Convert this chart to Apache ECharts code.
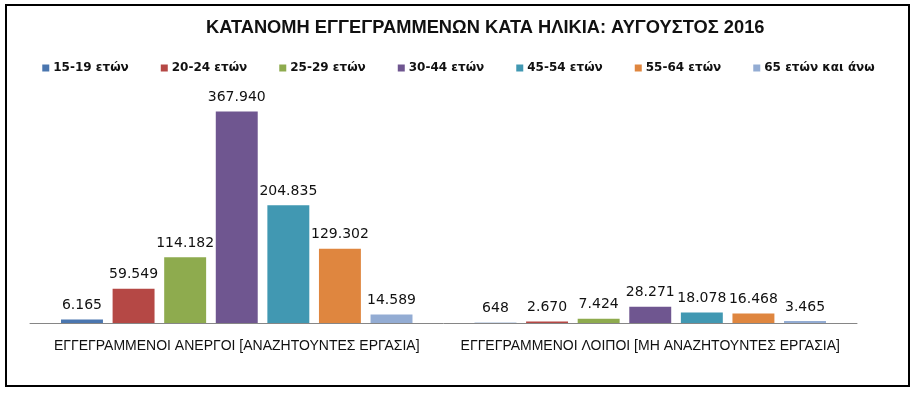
<!DOCTYPE html>
<html>
<head>
<meta charset="utf-8">
<script src="https://cdn.jsdelivr.net/npm/echarts@6/dist/echarts.min.js"></script>
<style>
  html, body { margin: 0; padding: 0; background: #fff; }
  #chart { width: 917px; height: 399px; }
</style>
</head>
<body>
<div id="chart"></div>
<script>
// κατηγορίες (άξονας x)
const categories = [
  'ΕΓΓΕΓΡΑΜΜΕΝΟΙ ΑΝΕΡΓΟΙ [ΑΝΑΖΗΤΟΥΝΤΕΣ ΕΡΓΑΣΙΑ]',
  'ΕΓΓΕΓΡΑΜΜΕΝΟΙ ΛΟΙΠΟΙ [ΜΗ ΑΝΑΖΗΤΟΥΝΤΕΣ ΕΡΓΑΣΙΑ]'
]
// ηλικιακές ομάδες (σειρές)
const ageGroups = ['15-19 ετών', '20-24 ετών', '25-29 ετών', '30-44 ετών', '45-54 ετών', '55-64 ετών', '65 ετών και άνω']
const age15_19 = [6165, 648]
const age20_24 = [59549, 2670]
const age25_29 = [114182, 7424]
const age30_44 = [367940, 28271]
const age45_54 = [204835, 18078]
const age55_64 = [129302, 16468]
const age65plus = [14589, 3465]

const seriesValues = [age15_19, age20_24, age25_29, age30_44, age45_54, age55_64, age65plus]
const colors = ['#4a76af', '#b54845', '#8eab4e', '#6f5690', '#4198b2', '#df863f', '#93acd3']

const fmt = v => String(v).replace(/\B(?=(\d{3})+(?!\d))/g, '.')

const chart = echarts.init(document.getElementById('chart'), null, { renderer: 'canvas' })

const option = {
  animation: false,
  color: colors,
  title: {
    text: 'ΚΑΤΑΝΟΜΗ ΕΓΓΕΓΡΑΜΜΕΝΩΝ ΚΑΤΑ ΗΛΙΚΙΑ: ΑΥΓΟΥΣΤΟΣ 2016',
    left: 201,
    top: 14,
    textStyle: { fontFamily: 'Liberation Sans', fontSize: 18.3, fontWeight: 'bold', color: '#111' }
  },
  legend: {
    top: 57,
    left: 'center',
    itemWidth: 7,
    itemHeight: 7,
    itemGap: 32,
    icon: 'rect',
    textStyle: { fontFamily: 'DejaVu Sans', fontSize: 12, fontWeight: 'bold', color: '#111', padding: [0, 0, 0, -1] },
    data: ageGroups
  },
  grid: { left: 30, right: 60, top: 93, bottom: 76, containLabel: false },
  xAxis: {
    type: 'category',
    data: categories,
    axisLine: { lineStyle: { color: '#868686', width: 1 } },
    axisTick: { show: false },
    axisLabel: { margin: 16, fontFamily: 'Liberation Sans', fontSize: 14, color: '#111', interval: 0 }
  },
  yAxis: {
    type: 'value',
    min: 0,
    max: 400000,
    show: false,
    splitLine: { show: false }
  },
  graphic: [{
    type: 'rect',
    shape: { x: 6, y: 5, width: 903, height: 381 },
    style: { fill: 'none', stroke: '#000', lineWidth: 2 },
    silent: true
  }],
  series: seriesValues.map((vals, i) => ({
    name: ageGroups[i],
    type: 'bar',
    data: vals,
    barGap: '23%',
    barCategoryGap: '15%',
    itemStyle: { color: colors[i] },
    label: {
      show: true,
      position: 'top',
      distance: 7,
      fontFamily: 'DejaVu Sans',
      fontSize: 14,
      color: '#111',
      formatter: p => fmt(p.value)
    }
  }))
}

chart.setOption(option)
</script>
</body>
</html>
